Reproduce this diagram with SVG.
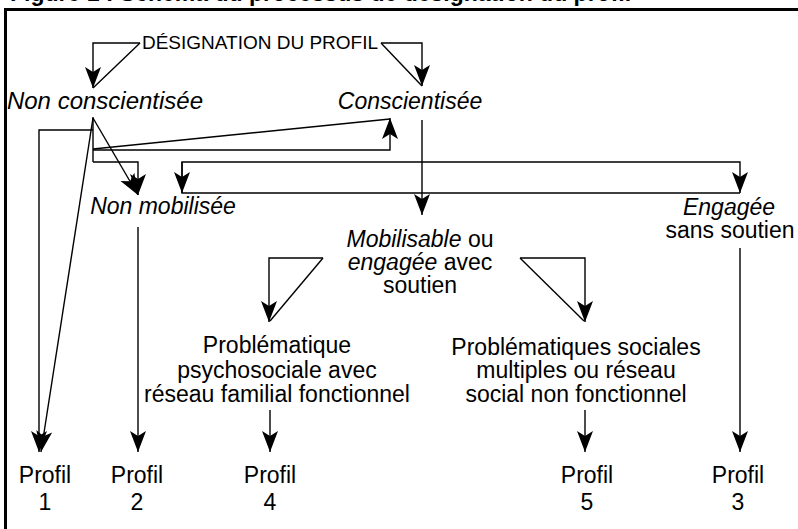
<svg xmlns="http://www.w3.org/2000/svg" width="798" height="529" viewBox="0 0 798 529">
<style>
text{font-family:"Liberation Sans",Arial,sans-serif;fill:#000;font-size:23px;text-anchor:middle}
.i{font-style:italic}
.t{font-weight:bold;text-anchor:start}
.c{fill:none;stroke:#000;stroke-width:1.4}
.a{marker-end:url(#ah)}
</style>
<defs>
<marker id="ah" markerUnits="userSpaceOnUse" markerWidth="24" markerHeight="20" viewBox="-22 -10 24 20" refX="0" refY="0" orient="auto">
<path d="M0,0 L-21,-8 L-16,0 L-21,8 Z" fill="#000"/>
</marker>
</defs>
<rect width="798" height="529" fill="#fff"/>
<text class="t" x="10" y="1">Figure 1 : Schéma du processus de désignation du profil</text>
<path d="M5.5,529 V9.5 H798" fill="none" stroke="#000" stroke-width="3"/>
<g id="connectors">
<path class="c a" d="M140,43 H93 V88"/>
<path class="c" d="M140,43 L93,88"/>
<path class="c a" d="M381,43 H422 V86"/>
<path class="c" d="M381,43 L422,86"/>
<path class="c" d="M93,117 V162"/>
<path class="c a" d="M93,130 H39 V452"/>
<path class="c a" d="M93,118 L41,452"/>
<path class="c a" d="M93,150 H390 V118"/>
<path class="c" d="M93,149 L390,119"/>
<path class="c a" d="M93,162 H138 V195"/>
<path class="c a" d="M93,118 L138,195"/>
<path class="c a" d="M422,120 V215"/>
<path class="c a" d="M740,193 H182 V162 H740 V193"/>
<path class="c a" d="M182,162 V193"/>
<path class="c a" d="M138,227 V452"/>
<path class="c a" d="M323,258 H269 V322"/>
<path class="c" d="M323,258 L270,321"/>
<path class="c a" d="M520,258 H585 V322"/>
<path class="c" d="M520,258 L584,321"/>
<path class="c a" d="M270,410 V452"/>
<path class="c a" d="M585,410 V452"/>
<path class="c a" d="M740,248 V452"/>
</g>
<g id="designation"><text x="260" y="49" style="font-size:19px">DÉSIGNATION DU PROFIL</text></g>
<g id="non-conscientisee"><text class="i" x="105" y="109" style="font-size:24px">Non conscientisée</text></g>
<g id="conscientisee"><text class="i" x="410" y="109">Conscientisée</text></g>
<g id="non-mobilisee"><text class="i" x="163" y="214">Non mobilisée</text></g>
<g id="mobilisable">
<text x="420" y="247"><tspan class="i">Mobilisable</tspan> ou</text>
<text x="420" y="270"><tspan class="i">engagée</tspan> avec</text>
<text x="420" y="293">soutien</text>
</g>
<g id="engagee">
<text class="i" x="729" y="215">Engagée</text>
<text x="730" y="238">sans soutien</text>
</g>
<g id="probleme-psy">
<text x="277" y="353">Problématique</text>
<text x="277" y="378">psychosociale avec</text>
<text x="277" y="402">réseau familial fonctionnel</text>
</g>
<g id="probleme-sociales">
<text x="576" y="355">Problématiques sociales</text>
<text x="576" y="378">multiples ou réseau</text>
<text x="576" y="402">social non fonctionnel</text>
</g>
<g id="profil1"><text x="45" y="483">Profil</text><text x="45" y="510">1</text></g>
<g id="profil2"><text x="137" y="483">Profil</text><text x="137" y="510">2</text></g>
<g id="profil4"><text x="270" y="483">Profil</text><text x="270" y="510">4</text></g>
<g id="profil5"><text x="587" y="483">Profil</text><text x="587" y="510">5</text></g>
<g id="profil3"><text x="738" y="483">Profil</text><text x="738" y="510">3</text></g>
</svg>
